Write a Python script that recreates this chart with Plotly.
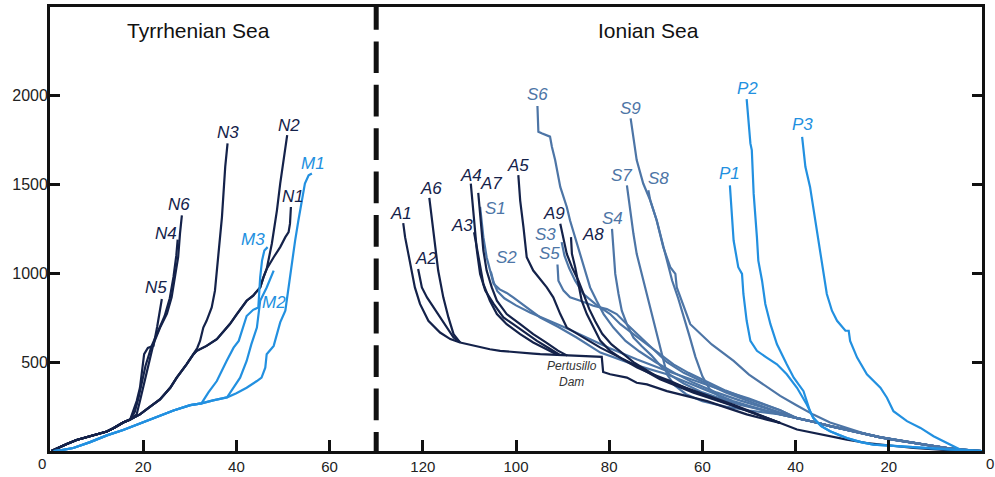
import plotly.graph_objects as go

# ---------------- data : distance from coast (km) vs elevation (m) ----------------
# Tyrrhenian Sea (left panel, distance increases to the right)
N_BASE_D = [0.3, 1.5, 3.6, 5.7, 9.3, 12.2, 13.6, 15.7, 17.2]
N_BASE_V = [0, 15, 40, 62, 90, 110, 128, 160, 177]
N123_D = [19.3, 21.5, 23.6, 25.8, 27.2, 29.3, 30.8]
N123_V = [206, 250, 290, 356, 413, 488, 545]
N3_D = [31.6, 32.2, 32.9, 33.6, 34.7, 35.4, 36.1, 36.9, 37.6, 38.1]
N3_V = [580, 620, 695, 733, 808, 903, 1091, 1317, 1600, 1732]
N12_D = [31.5, 33.6, 35.8, 38.6, 40.1, 42.2, 43.6, 45.1, 45.8, 46.5]
N12_V = [564, 592, 630, 715, 771, 846, 875, 921, 978, 1025]
N2_D = [47.6, 48.7, 49.4, 50.1, 50.9]
N2_V = [1167, 1355, 1506, 1638, 1779]
N1_D = [48.0, 49.4, 50.5, 51.2, 51.5, 51.7]
N1_V = [1091, 1148, 1204, 1232, 1280, 1374]
N5_D = [18.6, 19.3, 19.8, 20.2, 21.0, 22.2, 23.0, 24.0]
N5_V = [281, 356, 470, 545, 580, 592, 700, 856]
N4_D = [18.2, 19.0, 19.7, 20.5, 21.8, 23.2, 24.6, 25.7, 26.5, 27.1, 27.4]
N4_V = [220, 300, 380, 480, 590, 680, 760, 860, 980, 1100, 1190]
N6_D = [18.6, 19.3, 20.0, 21.1, 22.2, 23.6, 25.1, 26.1, 26.8, 27.5, 27.9, 28.3]
N6_V = [207, 282, 356, 490, 603, 694, 773, 865, 978, 1091, 1225, 1327]

M_BASE_D = [0.8, 2.5, 5.0, 8.6, 12.2, 15.7, 19.3, 22.9, 26.5, 30.1, 32.5]
M_BASE_V = [0, 5, 17, 50, 88, 118, 155, 192, 228, 258, 268]
M3_D = [34.0, 35.8, 37.9, 39.4, 40.5, 41.5, 42.2, 43.6, 44.7, 45.1, 45.5, 46.0, 46.7]
M3_V = [330, 394, 507, 582, 620, 700, 760, 795, 808, 978, 1072, 1129, 1148]
M12_D = [35.0, 38.0]
M12_V = [285, 302]
M2_D = [40.8, 42.2, 43.2, 44.4, 45.1, 46.5, 48.0]
M2_V = [413, 507, 600, 695, 846, 921, 1016]
M1_D = [40.0, 42.2, 44.4, 45.4, 46.2, 46.5, 48.0, 49.4, 50.5, 51.2, 51.9, 52.6, 53.3, 54.0, 54.7, 55.5, 56.2]
M1_V = [325, 356, 394, 413, 469, 545, 592, 724, 790, 921, 1072, 1185, 1298, 1411, 1506, 1553, 1563]

# Ionian Sea (right panel, distance from coast decreases to the right)
AGRI_TRUNK_D = [112.0, 109.0, 105.6, 103.4, 100.6, 96.3, 94.8, 89.0, 85.0, 81.6, 81.3, 79.8, 76.2, 74.1,
                71.9, 67.6, 63.3, 59.0, 54.7, 50.5, 46.2, 43.3, 39.7, 36.2, 32.6, 29.0, 24.7, 19.7,
                14.7, 7.5, 1.8, 0]
AGRI_TRUNK_V = [611, 592, 573, 564, 556, 548, 545, 537, 533, 530, 445, 432, 413, 384,
                375, 337, 309, 281, 243, 206, 177, 158, 121, 102, 83, 64, 45, 32,
                17, 5, 1, 0]
A1_D = [124.2, 123.8, 123.1, 122.4, 121.7, 120.6, 118.8, 116.3, 114.1, 112.0]
A1_V = [1283, 1204, 1110, 1016, 921, 828, 733, 667, 630, 611]
A2_D = [121.0, 120.7, 120.2, 119.1, 117.7, 116.3, 114.9, 113.4, 112.0]
A2_V = [1025, 978, 921, 865, 808, 752, 695, 639, 611]
A6_D = [118.6, 118.1, 117.4, 116.7, 115.6, 114.5, 113.4, 112.4, 112.0]
A6_V = [1425, 1317, 1167, 1016, 865, 752, 658, 620, 611]
A3_D = [109.0, 108.4, 107.7, 107.0, 105.6, 104.1, 102.0, 99.1, 96.3, 93.5, 91.0]
A3_V = [1232, 1148, 1035, 941, 846, 771, 714, 658, 611, 575, 541]
A4_D = [109.7, 109.1, 108.4, 107.7, 106.6, 104.8, 102.7, 100.6, 97.7, 95.5, 93.0, 90.5]
A4_V = [1506, 1317, 1129, 997, 903, 828, 752, 714, 658, 620, 580, 540]
A7_D = [108.1, 107.7, 107.0, 106.3, 105.2, 104.1, 102.0, 99.1, 96.3, 93.5, 91.0, 89.0]
A7_V = [1453, 1317, 1129, 1016, 921, 846, 771, 714, 658, 610, 565, 537]
A5_D = [99.5, 99.1, 98.4, 97.7, 96.3, 93.4, 92.0, 90.5, 89.1, 85.5, 81.9, 78.0, 74.8, 69.1, 61.9, 53.3, 46.2, 43.3]
A5_V = [1553, 1410, 1261, 1091, 1016, 921, 865, 771, 695, 639, 582, 530, 488, 404, 328, 253, 187, 158]
A8_D = [88.2, 88.0, 87.3, 86.6, 85.9, 84.8, 83.4, 81.9, 79.8, 77.0, 74.0, 71.0, 67.0, 61.9, 53.3, 46.2, 43.3]
A8_V = [1204, 1110, 1035, 941, 846, 771, 695, 620, 564, 515, 470, 435, 395, 335, 255, 187, 158]
A9_D = [90.5, 89.8, 89.1, 88.0, 86.6, 85.5, 84.3, 83.0, 81.5, 79.5, 77.0, 74.8, 72.0, 69.1, 64.0, 58.0, 53.3, 46.2, 43.3]
A9_V = [1280, 1185, 1110, 1035, 959, 884, 800, 730, 660, 600, 545, 500, 455, 410, 360, 305, 260, 187, 158]

S_TAIL_D = [39.7, 36.2, 32.6, 29.0, 25.4, 21.8, 18.2, 14.7, 11.0, 7.5, 4.0, 1.8, 0]
S_TAIL_V = [185, 165, 140, 121, 98, 77, 60, 45, 30, 17, 6, 2, 0]
S1_D = [107.7, 107.0, 106.3, 105.6, 104.8, 103.5, 102.0, 100.6, 97.7, 94.8, 91.0, 87.0, 81.9, 74.8, 67.6, 60.5, 53.4, 46.2, 43.3]
S1_V = [1374, 1204, 1091, 1016, 941, 910, 890, 865, 808, 752, 700, 639, 554, 488, 432, 356, 281, 224, 206]
S2_D = [105.4, 104.8, 104.0, 102.5, 100.0, 97.0, 93.0, 89.0, 85.0, 80.0, 74.0, 68.0, 62.0, 56.0, 50.0, 46.0, 43.3]
S2_V = [1010, 950, 900, 860, 820, 780, 735, 690, 640, 580, 515, 455, 400, 345, 295, 255, 230]
S3_D = [90.2, 89.6, 88.6, 87.3, 85.5, 83.0, 79.8, 77.6, 74.8, 71.9, 69.1, 66.2, 63.0, 59.0, 55.0, 51.0, 47.0, 43.3]
S3_V = [1176, 1100, 1030, 959, 884, 828, 771, 714, 658, 601, 545, 488, 440, 390, 340, 300, 262, 230]
S4_D = [79.4, 79.1, 78.7, 78.0, 77.3, 76.2, 74.8, 73.0, 71.0, 69.0, 67.0, 64.0, 60.0, 55.0, 50.0, 46.0, 43.3]
S4_V = [1251, 1148, 997, 884, 790, 714, 639, 590, 540, 480, 430, 380, 330, 285, 250, 224, 206]
S5_D = [91.1, 90.9, 89.8, 88.4, 86.2, 83.4, 80.5, 78.4, 76.2, 74.0, 72.0, 70.0, 67.6, 64.0, 60.0, 55.0, 50.0, 46.0, 43.3]
S5_V = [1050, 959, 903, 865, 846, 818, 799, 771, 714, 660, 610, 560, 500, 440, 390, 330, 280, 240, 215]
S6_D = [95.4, 95.2, 94.5, 92.7, 92.3, 91.6, 90.5, 89.8, 89.1, 88.4, 87.3, 86.2, 85.2, 84.1, 82.7, 81.2, 79.1,
        76.5, 73.5, 70.0, 66.0, 62.0, 57.0, 52.0, 47.0, 43.3]
S6_V = [1943, 1798, 1789, 1770, 1713, 1638, 1487, 1430, 1374, 1298, 1204, 1110, 1016, 921, 846, 771, 695,
        620, 560, 500, 440, 385, 330, 285, 245, 215]
S7_D = [76.2, 75.5, 74.8, 74.1, 73.0, 71.9, 70.8, 69.8, 68.7, 67.6, 66.0, 63.5, 60.0, 55.0, 50.0, 46.0, 43.3]
S7_V = [1496, 1355, 1223, 1110, 997, 884, 771, 658, 545, 432, 370, 320, 280, 250, 228, 215, 206]
S8_D = [71.6, 71.2, 69.8, 68.4, 67.4, 66.5, 65.2, 64.0, 62.8, 61.5, 60.0, 58.5, 56.0, 52.0, 47.0, 43.3]
S8_V = [1468, 1412, 1298, 1148, 1050, 960, 860, 760, 650, 530, 420, 350, 300, 260, 228, 206]
S9_D = [75.4, 74.8, 74.1, 72.7, 71.2, 69.8, 68.4, 66.9, 65.8, 65.5, 63.3, 62.6, 58.0, 53.3, 50.0, 46.0, 43.3,
        40.0, 36.2, 32.6, 29.0, 25.4, 21.8, 18.2, 14.7, 11.0, 7.5, 4.0, 1.8, 0]
S9_V = [1873, 1751, 1638, 1506, 1412, 1298, 1148, 1035, 997, 921, 771, 714, 600, 507, 430, 360, 310,
        260, 205, 160, 128, 100, 78, 61, 46, 31, 18, 6, 2, 0]

P_TAIL_D = [34.5, 32.6, 30.5, 29.0, 26.0, 23.3, 18.2, 14.0, 10.0, 6.0, 3.0, 0]
P_TAIL_V = [140, 111, 88, 73, 50, 36, 28, 20, 12, 6, 2, 0]
P1_D = [54.1, 53.7, 53.3, 52.3, 51.5, 51.2, 50.5, 49.7, 48.3, 46.2, 44.0, 41.9, 39.7, 37.6, 36.2]
P1_V = [1496, 1355, 1185, 1035, 997, 884, 733, 620, 564, 526, 488, 432, 356, 262, 187]
P2_D = [50.5, 49.7, 49.4, 49.0, 48.3, 48.0, 47.2, 46.5, 45.4, 44.0, 41.9, 40.4, 38.3, 36.9, 36.2]
P2_V = [1981, 1732, 1694, 1449, 1204, 1072, 959, 828, 714, 601, 488, 413, 337, 224, 187]
P3_D = [38.6, 37.9, 36.9, 36.2, 35.4, 34.7, 34.0, 33.3, 32.2, 31.1, 29.3, 28.6, 28.3, 27.5, 26.8, 24.7, 21.8,
        20.4, 19.0, 16.1, 13.2, 10.4, 7.5, 4.7, 1.8, 0]
P3_V = [1769, 1600, 1487, 1374, 1242, 1129, 1016, 884, 790, 733, 677, 677, 620, 564, 526, 432, 356,
        300, 224, 168, 130, 83, 45, 8, 2, 0]

X_TICKS = [20, 40, 60, 80, 100, 120, 140, 160, 180]
X_TICKTEXT = ["20", "40", "60", "120", "100", "80", "60", "40", "20"]
Y_TICKS = [500, 1000, 1500, 2000]

# ---------------- styling ----------------
DARK = "#14224a"
STEEL = "#4d75a6"
BRIGHT = "#2290e0"
LW = 2.2
SPLIT = 70          # position of the dashed divider on the shared axis
ION_ORIGIN = 200    # right-panel coast (0 km) on the shared axis
FONT = "Liberation Sans, Arial, sans-serif"


def tyr(d):
    return list(d)


def ion(d):
    return [ION_ORIGIN - v for v in d]


fig = go.Figure()
labels = []


def add(name, xs, ys, color, label=None, shift=(0, 10)):
    fig.add_trace(go.Scatter(x=xs, y=ys, mode="lines", name=name,
                             line=dict(color=color, width=LW), showlegend=False,
                             hoverinfo="skip"))
    if label:
        top = -1 if label.startswith(("N", "M")) else 0
        labels.append((label, xs[top], ys[top], color, shift))


# Tyrrhenian
add("N3", tyr(N_BASE_D + N123_D + N3_D), N_BASE_V + N123_V + N3_V, DARK, "N3", (0, 11))
add("N2", tyr(N_BASE_D + N123_D + N12_D + N2_D), N_BASE_V + N123_V + N12_V + N2_V, DARK, "N2", (2, 10))
add("N1", tyr(N_BASE_D + N123_D + N12_D + N1_D), N_BASE_V + N123_V + N12_V + N1_V, DARK, "N1", (2, 10))
add("N5", tyr(N_BASE_D + N5_D), N_BASE_V + N5_V, DARK, "N5", (-6, 11))
add("N4", tyr(N_BASE_D + N4_D), N_BASE_V + N4_V, DARK, "N4", (-12, 6))
add("N6", tyr(N_BASE_D + N6_D), N_BASE_V + N6_V, DARK, "N6", (-3, 11))
add("M3", tyr(M_BASE_D + M3_D), M_BASE_V + M3_V, BRIGHT, "M3", (-15, 8))
add("M2", tyr(M_BASE_D + M12_D + M2_D), M_BASE_V + M12_V + M2_V, BRIGHT, "M2", (0, -32))
add("M1", tyr(M_BASE_D + M12_D + M1_D), M_BASE_V + M12_V + M1_V, BRIGHT, "M1", (1, 10))

# Ionian - Sinni (steel) and Agri (dark) basins
add("S1", ion(S1_D + S_TAIL_D), S1_V + S_TAIL_V, STEEL, "S1", (15, -2))
add("S2", ion(S2_D + S_TAIL_D), S2_V + S_TAIL_V, STEEL, "S2", (16, 14))
add("S3", ion(S3_D + S_TAIL_D), S3_V + S_TAIL_V, STEEL, "S3", (-16, 8))
add("S4", ion(S4_D + S_TAIL_D), S4_V + S_TAIL_V, STEEL, "S4", (0, 10))
add("S5", ion(S5_D + S_TAIL_D), S5_V + S_TAIL_V, STEEL, "S5", (-8, 11))
add("S6", ion(S6_D + S_TAIL_D), S6_V + S_TAIL_V, STEEL, "S6", (0, 11))
add("S7", ion(S7_D + S_TAIL_D), S7_V + S_TAIL_V, STEEL, "S7", (-5, 10))
add("S8", ion(S8_D + S_TAIL_D), S8_V + S_TAIL_V, STEEL, "S8", (10, 12))
add("S9", ion(S9_D), S9_V, STEEL, "S9", (0, 10))
add("Agri trunk", ion(AGRI_TRUNK_D), AGRI_TRUNK_V, DARK)
add("A1", ion(A1_D), A1_V, DARK, "A1", (-2, 10))
add("A2", ion(A2_D), A2_V, DARK, "A2", (8, 10))
add("A6", ion(A6_D), A6_V, DARK, "A6", (2, 9))
add("A3", ion(A3_D), A3_V, DARK, "A3", (-12, 7))
add("A4", ion(A4_D), A4_V, DARK, "A4", (0, 8))
add("A7", ion(A7_D), A7_V, DARK, "A7", (13, 9))
add("A5", ion(A5_D), A5_V, DARK, "A5", (0, 10))
add("A8", ion(A8_D), A8_V, DARK, "A8", (22, 3))
add("A9", ion(A9_D), A9_V, DARK, "A9", (-6, 10))
add("P1", ion(P1_D + P_TAIL_D), P1_V + P_TAIL_V, BRIGHT, "P1", (0, 12))
add("P2", ion(P2_D + P_TAIL_D), P2_V + P_TAIL_V, BRIGHT, "P2", (1, 11))
add("P3", ion(P3_D), P3_V, BRIGHT, "P3", (0, 12))

annotations = []
for text, x, y, color, (dx, dy) in labels:
    annotations.append(dict(x=x, y=y, xref="x", yref="y", text="<i>%s</i>" % text,
                            showarrow=False, xanchor="center", yanchor="middle",
                            xshift=dx, yshift=dy,
                            font=dict(family=FONT, size=17, color=color)))

# panel titles
annotations.append(dict(x=SPLIT / 2 - 3.2, y=2365, xref="x", yref="y", text="Tyrrhenian Sea",
                        showarrow=False, xanchor="center", yanchor="middle",
                        font=dict(family=FONT, size=21, color="#111")))
annotations.append(dict(x=128.5, y=2365, xref="x", yref="y", text="Ionian Sea",
                        showarrow=False, xanchor="center", yanchor="middle",
                        font=dict(family=FONT, size=21, color="#111")))
# dam note, anchored at the foot of the dam drop
dam_i = 10
annotations.append(dict(x=ion(AGRI_TRUNK_D)[dam_i], y=AGRI_TRUNK_V[dam_i], xref="x", yref="y",
                        text="<i>Pertusillo<br>Dam</i>", showarrow=False, xshift=-31, yshift=-2,
                        xanchor="center", yanchor="middle",
                        font=dict(family=FONT, size=12, color="#333")))
# the two coast "0" labels
annotations.append(dict(x=0, y=0, xref="x", yref="paper", text="0", showarrow=False,
                        xanchor="center", yanchor="middle",
                        xshift=-8, yshift=-12, font=dict(family=FONT, size=15, color="#222")))
annotations.append(dict(x=ION_ORIGIN, y=0, xref="x", yref="paper", text="0", showarrow=False,
                        xanchor="center", yanchor="middle",
                        xshift=8, yshift=-12, font=dict(family=FONT, size=15, color="#222")))

dash_pattern = "22.7px," + ",".join(["11.7px,31.7px"] * 10)
divider_line = dict(color="#111", width=5)
try:
    go.layout.shape.Line(dash=dash_pattern)
    divider_line["dash"] = dash_pattern
except Exception:
    divider_line["dash"] = "23px," + ",".join(["12px,31px"] * 10)

fig.add_shape(type="line", xref="x", yref="paper", x0=SPLIT, x1=SPLIT, y0=1, y1=0,
              line=divider_line, layer="above")

fig.update_layout(
    width=995, height=477,
    margin=dict(l=50, r=13, t=7, b=26, autoexpand=False),
    paper_bgcolor="white", plot_bgcolor="white",
    font=dict(family=FONT, size=15, color="#222"),
    annotations=annotations,
    xaxis=dict(range=[0, ION_ORIGIN], tickmode="array", tickvals=X_TICKS, ticktext=X_TICKTEXT,
               ticks="inside", ticklen=11, tickwidth=2.5, tickcolor="#111",
               showline=True, linewidth=2.8, linecolor="#111", mirror=True,
               showgrid=False, zeroline=False, tickfont=dict(size=15, color="#222")),
    yaxis=dict(range=[0, 2500], tickmode="array", tickvals=Y_TICKS,
               ticks="inside", ticklen=10, tickwidth=2.5, tickcolor="#111",
               showline=True, linewidth=2.8, linecolor="#111", mirror="ticks",
               ticklabelstandoff=-4,
               showgrid=False, zeroline=False, tickfont=dict(size=16, color="#222")),
)

fig.write_html("out.html", config={"displayModeBar": False},
               post_script="document.body.style.margin='0px';document.body.style.overflow='hidden';")
